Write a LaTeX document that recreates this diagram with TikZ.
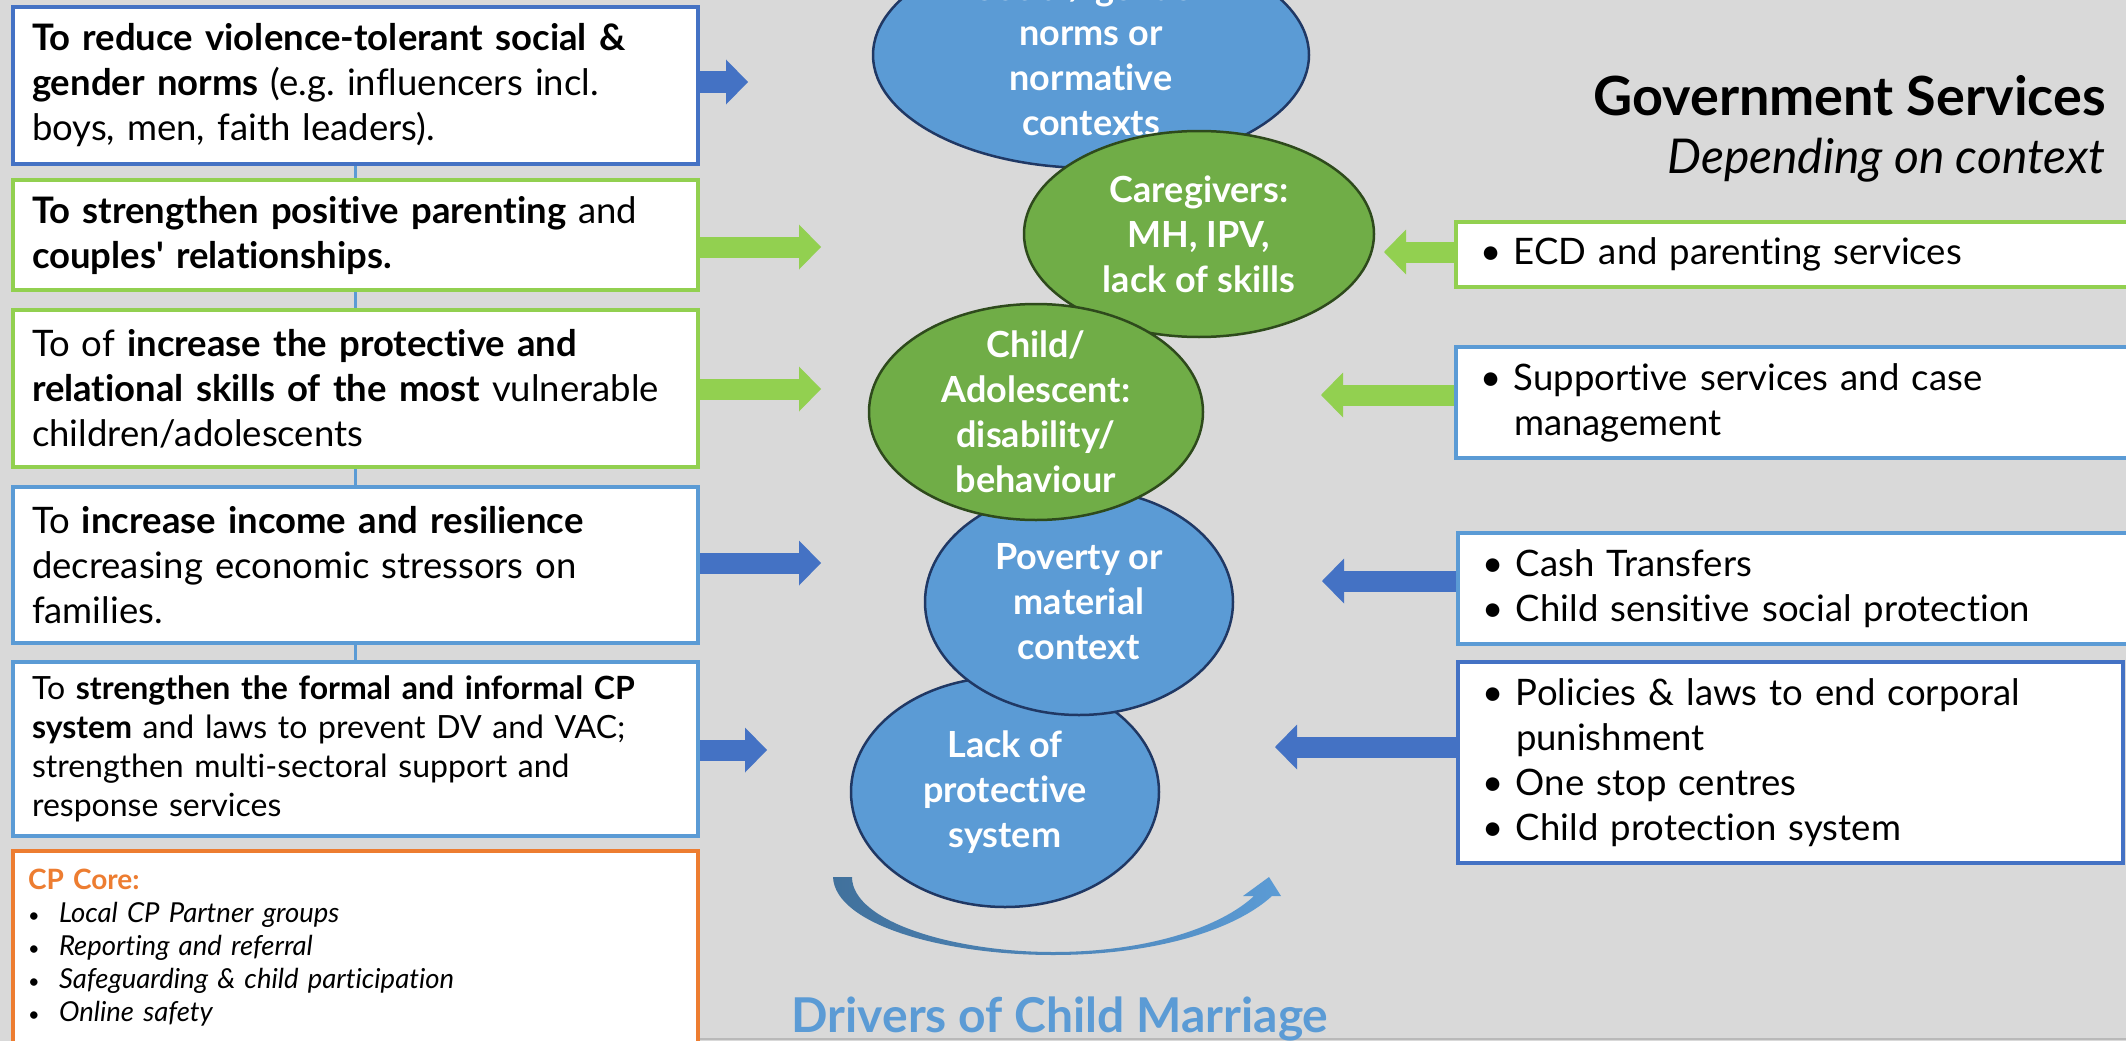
\documentclass[tikz,border=0pt]{standalone}
\usepackage{fontspec}
\setmainfont{Lato}[Ligatures={NoCommon}]
\usepackage{tikz}
\usetikzlibrary{arrows.meta,positioning,backgrounds,shapes.geometric}
\definecolor{bgrey}{HTML}{D9D9D9}
\definecolor{bluedark}{HTML}{4472C4}
\definecolor{bluelight}{HTML}{5B9BD5}
\definecolor{greenlight}{HTML}{92D050}
\definecolor{greenell}{HTML}{70AD47}
\definecolor{cporange}{HTML}{ED7D31}
\definecolor{navyline}{HTML}{203864}
\definecolor{greenline}{HTML}{2E4A1C}
\definecolor{curveA}{HTML}{41719C}
\newcommand{\itm}{\makebox[34pt][l]{\textbullet}}
\newcommand{\cpitm}{\makebox[31pt][l]{\fontsize{20}{33}\selectfont\textbullet}}

\begin{document}
\begin{tikzpicture}[x=1pt, y=-1pt,
    goal/.style={draw, line width=4pt, fill=white, anchor=north west, minimum width=685pt,
      text width=647pt, inner xsep=19pt, inner ysep=0pt, align=left,
      font=\fontsize{36.5}{45}\selectfont},
    svc/.style={draw, line width=4pt, fill=white, anchor=north west, minimum width=700pt,
      text width=652pt, inner xsep=24pt, inner ysep=0pt, align=left,
      font=\fontsize{36.5}{45}\selectfont},
    driver/.style={ellipse, draw, line width=2.5pt, inner sep=0pt},
    etext/.style={text=white, align=center, font=\fontsize{36}{45}\selectfont\bfseries},
    barrow/.style={draw=#1, line width=21pt, -{Triangle[length=22pt,width=45pt,line width=0pt]}}]
    \useasboundingbox (0,0) rectangle (2126,1041);
    \clip (0,0) rectangle (2126,1041);

    % left column
    \node[goal, draw=bluedark, minimum height=157pt] (g1) at (11,5) {\textbf{To reduce violence-tolerant social \&}\\\textbf{gender norms} (e.g.\ influencers incl.\\boys, men, faith leaders).};
    \node[goal, draw=greenlight, minimum height=110pt] (g2) at (11,178) {\textbf{To strengthen positive parenting} and\\\textbf{couples\textquotesingle{} relationships.}};
    \node[goal, draw=greenlight, minimum height=157pt] (g3) at (11,308) {To of \textbf{increase the protective and}\\\textbf{relational skills of the most} vulnerable\\children/adolescents};
    \node[goal, draw=bluelight, minimum height=156pt] (g4) at (11,485) {To \textbf{increase income and resilience}\\decreasing economic stressors on\\families.};
    \node[goal, draw=bluelight, minimum height=174pt, font=\fontsize{32}{39}\selectfont] (g5) at (11,660) {To \textbf{strengthen the formal and informal CP}\\\textbf{system} and laws to prevent DV and VAC;\\strengthen multi-sectoral support and\\response services};
    \node[goal, draw=cporange, inner xsep=15pt, text width=655pt, inner ysep=18pt, font=\fontsize{27.5}{33}\selectfont] (g6) at (11,849) {\textcolor{cporange}{\fontsize{28}{33}\selectfont\textbf{CP Core:}}\\\cpitm\textit{Local CP Partner groups}\\\cpitm\textit{Reporting and referral}\\\cpitm\textit{Safeguarding \& child participation}\\\cpitm\textit{Online safety}};

    % drivers
    \node[driver, fill=bluelight, draw=navyline, minimum width=436pt, minimum height=226pt,
      label={[etext]center:{Social/ gender\\norms or\\normative\\contexts}}] (d1) at (1091,55) {};
    \node[driver, fill=greenell, draw=greenline, minimum width=350pt, minimum height=206pt,
      label={[etext]center:{Caregivers:\\MH, IPV,\\lack of skills}}] (d2) at (1199,234) {};
    \node[driver, fill=bluelight, draw=navyline, minimum width=308pt, minimum height=230pt,
      label={[etext]center:{Lack of\\protective\\system}}] (d5) at (1005,792) {};
    \node[driver, fill=bluelight, draw=navyline, minimum width=308pt, minimum height=226pt,
      label={[etext]center:{Poverty or\\material\\context}}] (d4) at (1079,602) {};
    \node[driver, fill=greenell, draw=greenline, minimum width=334pt, minimum height=216pt,
      label={[etext]center:{Child/\\Adolescent:\\disability/\\behaviour}}] (d3) at (1036,412) {};

    \shade[left color=curveA, right color=bluelight] (833,877) .. controls (835,925) and (945,955) .. (1053,955)
      .. controls (1155,955) and (1235,930) .. (1272,896) -- (1281,896) -- (1269,877) -- (1243,896) -- (1254,896)
      .. controls (1222,926) and (1150,952) .. (1053,952) .. controls (955,952) and (852,922) .. (852,877) -- cycle;
    \node[anchor=base, text=bluelight, inner sep=0pt, font=\fontsize{48}{52}\selectfont\bfseries] (drv) at (1060,1032) {Drivers of Child Marriage};

    % right column
    \node[anchor=base east, inner sep=0pt, font=\fontsize{54}{60}\selectfont\bfseries] (gov) at (2106,115) {Government Services};
    \node[anchor=base east, inner sep=0pt, font=\fontsize{48}{52}\selectfont\itshape] (ctx) at (2106,173) {Depending on context};
    \node[svc, draw=greenlight, minimum height=65pt] (s1) at (1454,220) {\itm ECD and parenting services};
    \node[svc, draw=bluelight, minimum height=111pt] (s2) at (1454,345) {\itm Supportive services and case\\\hspace*{34pt}management};
    \node[svc, draw=bluelight, minimum height=111pt] (s3) at (1456,531) {\itm Cash Transfers\\\itm Child sensitive social protection};
    \node[svc, draw=bluedark, minimum height=201pt, minimum width=665pt, text width=617pt] (s4) at (1456,660) {\itm Policies \& laws to end corporal\\\hspace*{34pt}punishment\\\itm One stop centres\\\itm Child protection system};

    % arrows
    \coordinate (a1) at (748,82);
    \coordinate (a2) at (821,247);
    \coordinate (a3) at (821,389);
    \coordinate (a4) at (821,563);
    \coordinate (a5) at (767,750);
    \draw[barrow=bluedark] (g1.east |- a1) -- (a1);
    \draw[barrow=greenlight] (g2.east |- a2) -- (a2);
    \draw[barrow=greenlight] (g3.east |- a3) -- (a3);
    \draw[barrow=bluedark] (g4.east |- a4) -- (a4);
    \draw[barrow=bluedark] (g5.east |- a5) -- (a5);
    \coordinate (b1) at (1384,252);
    \coordinate (b2) at (1321,395);
    \coordinate (b3) at (1322,581);
    \coordinate (b4) at (1275,747);
    \draw[barrow=greenlight] (s1.west |- b1) -- (b1);
    \draw[barrow=greenlight] (s2.west |- b2) -- (b2);
    \draw[barrow=bluedark] (s3.west |- b3) -- (b3);
    \draw[barrow=bluedark] (s4.west |- b4) -- (b4);

    \begin{scope}[on background layer]
      \fill[bgrey] (0,0) rectangle (2126,1041);
      \draw[bluelight, line width=3pt] (g1.south) -- (g5.north);
      \draw[gray!55, line width=2pt] (g5.east |- 0,1039) -- (2126,1039);
    \end{scope}
   \end{tikzpicture}
\end{document}
